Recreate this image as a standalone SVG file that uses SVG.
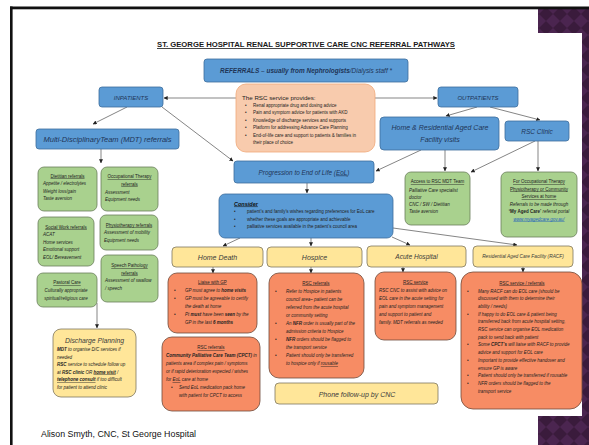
<svg xmlns="http://www.w3.org/2000/svg" width="589" height="445" viewBox="0 0 589 445">
<defs>
<pattern id="diam" width="14" height="14" patternUnits="userSpaceOnUse">
<rect width="14" height="14" fill="#3a1b3c"/>
<path d="M7,0 L14,7 L7,14 L0,7 Z" fill="#4b2550"/>
</pattern>
<marker id="ah" viewBox="0 0 6 6" refX="5.5" refY="3" markerWidth="4" markerHeight="4" orient="auto" markerUnits="userSpaceOnUse">
<path d="M0,0 L6,3 L0,6 Z" fill="#222"/>
</marker>
<style>
text{font-family:"Liberation Sans",Arial,sans-serif}
.blue{fill:#5b9bd5;stroke:#3e6d9c;stroke-width:0.8}
.peach{fill:#f8cbad;stroke:#f0a878;stroke-width:0.8}
.green{fill:#a9d18e;stroke:#6b7f5c;stroke-width:0.8}
.yellow{fill:#ffe699;stroke:#7f7760;stroke-width:0.8}
.orange{fill:#f78c64;stroke:#6e4a3a;stroke-width:0.8}
.bt{fill:#1f3557;font-style:italic}
.yt{fill:#3a3a3a;font-style:italic}
.s{font-size:4.5px;fill:#222;font-style:italic}
.r{font-size:4.5px;fill:#222}
.u{text-decoration:underline}
.c{text-anchor:middle}
.b{font-weight:bold}
#connectors path{fill:none;stroke:#333;stroke-width:0.6;marker-end:url(#ah)}
</style>
</defs>
<rect width="589" height="445" fill="#ffffff"/>
<rect x="538" y="9" width="51" height="24" fill="url(#diam)"/>
<rect x="582" y="33" width="7" height="383" fill="url(#diam)"/>
<rect x="538" y="416" width="51" height="29" fill="url(#diam)"/>
<rect x="10" y="6.5" width="579" height="2.8" fill="#111"/>
<rect x="10" y="6.5" width="2.6" height="438.5" fill="#111"/>

<text x="306" y="47" class="c b u" font-size="8" fill="#1a1a1a" textLength="298" lengthAdjust="spacingAndGlyphs">ST. GEORGE HOSPITAL RENAL SUPPORTIVE CARE CNC REFERRAL PATHWAYS</text>

<g id="connectors">
<path d="M236,98 L164,98"/>
<path d="M375,98 L437,98"/>
<path d="M127,107 L93,124"/>
<path d="M162,107 L233,161"/>
<path d="M477,107 L446,116"/>
<path d="M490,107 L540,120"/>
<path d="M445,150 L445,171"/>
<path d="M535,141 L471,172"/>
<path d="M538,140 L538,171"/>
<path d="M421,150 L376,171"/>
<path d="M101,149 L101,163"/>
<path d="M97,303 L97,328"/>
<path d="M307,183 L307,193"/>
<path d="M240,238 L223,246"/>
<path d="M311,238 L311,246"/>
<path d="M392,237 L410,245"/>
<path d="M393,228 L517,245"/>
<path d="M213,267 L213,273"/>
<path d="M311,267 L311,273"/>
<path d="M403,267 L403,272"/>
<path d="M523,267 L523,272"/>
</g>

<g id="referrals">
<rect x="204" y="59" width="204" height="23" rx="3" class="blue"/>
<text x="306" y="73" class="c bt" font-size="6.3" textLength="172" lengthAdjust="spacingAndGlyphs"><tspan class="b">REFERRALS – usually from Nephrologists</tspan>/Dialysis staff *</text>
</g>

<g id="inpatients">
<rect x="99" y="87" width="64" height="20" rx="3" class="blue"/>
<text x="131" y="99.5" class="c bt" font-size="6">INPATIENTS</text>
</g>

<g id="outpatients">
<rect x="438" y="87" width="80" height="20" rx="3" class="blue"/>
<text x="478" y="99.5" class="c bt" font-size="6">OUTPATIENTS</text>
</g>

<g id="rsc-service">
<rect x="236" y="84" width="139" height="68" rx="10" class="peach"/>
<text x="242" y="100" font-size="6.2" fill="#222">The RSC service provides:</text>
<text class="r"><tspan x="245" y="106.5">•</tspan><tspan x="253" y="106.5">Renal appropriate drug and dosing advice</tspan>
<tspan x="245" y="114">•</tspan><tspan x="253" y="114">Pain and symptom advice for patients with AKD</tspan>
<tspan x="245" y="121.5">•</tspan><tspan x="253" y="121.5">Knowledge of discharge services and supports</tspan>
<tspan x="245" y="129">•</tspan><tspan x="253" y="129">Platform for addressing Advance Care Planning</tspan>
<tspan x="245" y="136.5">•</tspan><tspan x="253" y="136.5">End-of-life care and support to patients &amp; families in</tspan>
<tspan x="253" y="143.5">their place of choice</tspan></text>
</g>

<g id="mdt">
<rect x="36" y="129" width="143" height="20" rx="3" class="blue"/>
<text x="107.5" y="142" class="c bt" font-size="6.5" textLength="128" lengthAdjust="spacingAndGlyphs">Multi-DisciplinaryTeam (MDT) referrals</text>
</g>

<g id="home-racf">
<rect x="380" y="117" width="119" height="33" rx="4" class="blue"/>
<text x="440" y="130" class="c bt" font-size="7">Home &amp; Residential Aged Care</text>
<text x="440" y="142" class="c bt" font-size="7">Facility visits</text>
</g>

<g id="rsc-clinic">
<rect x="505" y="121" width="64" height="20" rx="3" class="blue"/>
<text x="537" y="133.5" class="c bt" font-size="6.5">RSC Clinic</text>
</g>

<g id="progression">
<rect x="234" y="161" width="140" height="22" rx="3" class="blue"/>
<text x="304" y="174.5" class="c bt" font-size="6.4">Progression to End of Life (<tspan class="u">EoL</tspan>)</text>
</g>

<g id="access-mdt">
<rect x="405" y="172" width="65" height="53" rx="6" class="green"/>
<text x="437.5" y="183" class="c u" font-size="4.5" fill="#222">Access to RSC MDT Team</text>
<text class="s"><tspan x="409" y="191.5">Palliative Care specialist</tspan><tspan x="409" y="198.5">doctor</tspan><tspan x="409" y="205.5">CNC / SW / Dietitian</tspan><tspan x="409" y="212.5">Taste aversion</tspan></text>
</g>

<g id="for-ot">
<rect x="501" y="172" width="76" height="65" rx="6" class="green"/>
<text class="c u" font-size="4.5" fill="#222"><tspan x="539" y="183">For Occupational Therapy</tspan><tspan x="539" y="190.5">Physiotherapy or Community</tspan><tspan x="539" y="198">Services at home</tspan></text>
<text class="c s"><tspan x="539" y="205.5">Referrals to be made through</tspan><tspan x="539" y="213"><tspan class="b" font-style="normal">‘My Aged Care’</tspan> referral portal</tspan></text>
<text x="539" y="220.5" class="c u" font-size="4.5" font-style="italic" fill="#1f5fbf">www.myagedcare.gov.au/</text>
</g>

<g id="consider">
<rect x="219" y="194" width="174" height="44" rx="6" class="blue"/>
<text x="234" y="205.5" font-size="5.5" class="b u" font-style="italic" fill="#111">Consider</text><text x="256" y="205.5" font-size="5.5" fill="#111">:</text>
<text class="r" fill="#111"><tspan x="234" y="213">•</tspan><tspan x="247" y="213">patient’s and family’s wishes regarding preferences for EoL care</tspan>
<tspan x="234" y="220.5">•</tspan><tspan x="247" y="220.5">whether these goals are appropriate and achievable</tspan>
<tspan x="234" y="228">•</tspan><tspan x="247" y="228">palliative services available in the patient’s council area</tspan></text>
</g>

<g id="dietitian">
<rect x="38" y="167" width="59" height="44" rx="6" class="green"/>
<text x="67.5" y="177.5" class="c u" font-size="4.5" fill="#222">Dietitian referrals</text>
<text class="s"><tspan x="43" y="185">Appetite / electrolytes</tspan><tspan x="43" y="192.5">Weight loss/gain</tspan><tspan x="43" y="200">Taste aversion</tspan></text>
</g>

<g id="ot">
<rect x="101" y="167" width="57" height="44" rx="6" class="green"/>
<text class="c u" font-size="4.5" fill="#222"><tspan x="129.5" y="178">Occupational Therapy</tspan><tspan x="129.5" y="185.5">referrals</tspan></text>
<text class="s"><tspan x="105" y="193.5">Assessment</tspan><tspan x="105" y="201">Equipment needs</tspan></text>
</g>

<g id="social-work">
<rect x="38" y="217" width="56" height="49" rx="6" class="green"/>
<text x="66" y="228.5" class="c u" font-size="4.5" fill="#222">Social Work referrals</text>
<text class="s"><tspan x="43" y="236">ACAT</tspan><tspan x="43" y="243.5">Home services</tspan><tspan x="43" y="251">Emotional support</tspan><tspan x="43" y="258.5">EOL/ Bereavement</tspan></text>
</g>

<g id="physio">
<rect x="100" y="215" width="58" height="35" rx="6" class="green"/>
<text x="129" y="226.5" class="c u" font-size="4.5" fill="#222">Physiotherapy referrals</text>
<text class="s"><tspan x="104" y="234">Assessment of mobility</tspan><tspan x="104" y="241.5">Equipment needs</tspan></text>
</g>

<g id="speech">
<rect x="101" y="255" width="57" height="47" rx="6" class="green"/>
<text class="c u" font-size="4.5" fill="#222"><tspan x="129.5" y="267">Speech Pathology</tspan><tspan x="129.5" y="274.5">referrals</tspan></text>
<text class="s"><tspan x="105" y="282">Assessment of swallow</tspan><tspan x="105" y="289.5">/ speech</tspan></text>
</g>

<g id="pastoral">
<rect x="37" y="273" width="60" height="34" rx="6" class="green"/>
<text x="67" y="284" class="c u" font-size="4.5" fill="#222">Pastoral Care</text>
<text class="c s"><tspan x="66" y="292">Culturally appropriate</tspan><tspan x="66" y="299.5">spiritual/religious care</tspan></text>
</g>

<g id="discharge">
<rect x="53" y="329" width="83" height="68" rx="8" class="yellow"/>
<text x="94.5" y="343" class="c yt" font-size="6.8">Discharge Planning</text>
<text class="s"><tspan x="57" y="351"><tspan class="b">MDT</tspan> to organise D/C services if</tspan><tspan x="57" y="358.5">needed</tspan><tspan x="57" y="366"><tspan class="b">RSC</tspan> service to schedule follow up</tspan><tspan x="57" y="373.5">at <tspan class="b">RSC clinic</tspan> OR <tspan class="b u">home visit</tspan> /</tspan><tspan x="57" y="381"><tspan class="b u">telephone consult</tspan>  if too difficult</tspan><tspan x="57" y="388.5">for patient  to attend clinic</tspan></text>
</g>

<g id="home-death">
<rect x="172" y="247" width="91" height="20" rx="4" class="yellow"/>
<text x="217.5" y="259.5" class="c yt" font-size="7">Home Death</text>
</g>

<g id="hospice">
<rect x="267" y="247" width="95" height="20" rx="4" class="yellow"/>
<text x="314.5" y="259.5" class="c yt" font-size="7">Hospice</text>
</g>

<g id="acute">
<rect x="367" y="246" width="99" height="21" rx="4" class="yellow"/>
<text x="416.5" y="258.5" class="c yt" font-size="6.6">Acute Hospital</text>
</g>

<g id="racf">
<rect x="473" y="246" width="100" height="21" rx="4" class="yellow"/>
<text x="523" y="258" class="c yt" font-size="4.8">Residential Aged Care Facility (RACF)</text>
</g>

<g id="liaise-gp">
<rect x="168" y="273" width="89" height="60" rx="9" class="orange"/>
<text x="212.5" y="283.5" class="c u" font-size="4.5" fill="#222">Liaise with GP</text>
<text class="s"><tspan x="174" y="292">•</tspan><tspan x="185" y="292">GP must agree to <tspan class="b">home visits</tspan></tspan>
<tspan x="174" y="300">•</tspan><tspan x="185" y="300">GP must be agreeable to certify</tspan>
<tspan x="185" y="308">the death at home</tspan>
<tspan x="174" y="316">•</tspan><tspan x="185" y="316">Pt <tspan class="b">must</tspan> have been <tspan class="b">seen</tspan> by the</tspan>
<tspan x="185" y="324">GP in the last <tspan class="b">6 months</tspan></tspan></text>
</g>

<g id="home-rsc">
<rect x="162" y="337" width="98" height="74" rx="10" class="orange"/>
<text x="211" y="349" class="c u" font-size="4.5" fill="#222">RSC referrals</text>
<text class="s"><tspan x="166" y="357"><tspan class="b">Community Palliative Care Team (CPCT)</tspan> in</tspan>
<tspan x="166" y="365">patients area if complex pain / symptoms</tspan>
<tspan x="166" y="373">or if rapid deterioration expected / wishes</tspan>
<tspan x="166" y="381">for <tspan class="u">EoL</tspan> care at home</tspan>
<tspan x="171" y="389">•</tspan><tspan x="179" y="389">Send EoL medication pack home</tspan>
<tspan x="179" y="397">with patient for CPCT to access</tspan></text>
</g>

<g id="hospice-rsc">
<rect x="269" y="273" width="95" height="105" rx="10" class="orange"/>
<text x="316" y="284.5" class="c u" font-size="4.5" fill="#222">RSC referrals</text>
<text class="s"><tspan x="275" y="293">•</tspan><tspan x="286" y="293">Refer to Hospice in patients</tspan>
<tspan x="286" y="301">council area– patient can be</tspan>
<tspan x="286" y="309">referred from the acute hospital</tspan>
<tspan x="286" y="317">or community setting</tspan>
<tspan x="275" y="325">•</tspan><tspan x="286" y="325">An <tspan class="b">NFR</tspan> order is usually part of the</tspan>
<tspan x="286" y="333">admission criteria to Hospice</tspan>
<tspan x="275" y="341">•</tspan><tspan x="286" y="341"><tspan class="b">NFR</tspan> orders should be flagged to</tspan>
<tspan x="286" y="349">the transport service</tspan>
<tspan x="275" y="357">•</tspan><tspan x="286" y="357">Patient should only be transferred</tspan>
<tspan x="286" y="365">to hospice only if <tspan class="u">rousable</tspan></tspan></text>
</g>

<g id="acute-rsc">
<rect x="375" y="272" width="81" height="68" rx="9" class="orange"/>
<text x="415.5" y="283.5" class="c u" font-size="4.5" fill="#222">RSC service</text>
<text class="s"><tspan x="379" y="291.5">RSC CNC to assist with advice on</tspan>
<tspan x="379" y="299.5">EOL care in the acute setting for</tspan>
<tspan x="379" y="307.5">pain and symptom management</tspan>
<tspan x="379" y="315.5">and support to patient and</tspan>
<tspan x="379" y="323.5">family.  MDT referrals as needed</tspan></text>
</g>

<g id="racf-rsc">
<rect x="461" y="272" width="121" height="137" rx="12" class="orange"/>
<text x="522" y="284.5" class="c u" font-size="4.5" fill="#222">RSC service / referrals</text>
<text class="s"><tspan x="467" y="292.5">•</tspan><tspan x="478" y="292.5">Many RACF can do EOL care (should be</tspan>
<tspan x="478" y="300.2">discussed with them to determine their</tspan>
<tspan x="478" y="307.9">ability / needs)</tspan>
<tspan x="467" y="315.6">•</tspan><tspan x="478" y="315.6">If happy to do EOL care &amp; patient being</tspan>
<tspan x="478" y="323.3">transferred back from acute hospital setting,</tspan>
<tspan x="478" y="331">RSC service can organise EOL medication</tspan>
<tspan x="478" y="338.7">pack to send back with patient</tspan>
<tspan x="467" y="346.4">•</tspan><tspan x="478" y="346.4">Some <tspan class="b">CPCT’s</tspan> will liaise with RACF to provide</tspan>
<tspan x="478" y="354.1">advice and support  for EOL care</tspan>
<tspan x="467" y="361.8">•</tspan><tspan x="478" y="361.8">Important to provide effective handover and</tspan>
<tspan x="478" y="369.5">ensure GP is aware</tspan>
<tspan x="467" y="377.2">•</tspan><tspan x="478" y="377.2">Patient should only be transferred if rousable</tspan>
<tspan x="467" y="384.9">•</tspan><tspan x="478" y="384.9">NFR orders should be flagged to the</tspan>
<tspan x="478" y="392.6">transport service</tspan></text>
</g>

<g id="phone">
<rect x="275" y="383" width="163" height="21" rx="4" class="yellow"/>
<text x="357" y="396.5" class="c yt" font-size="7">Phone follow-up by CNC</text>
</g>

<text x="41" y="437" font-size="8.5" fill="#111" textLength="155" lengthAdjust="spacingAndGlyphs">Alison Smyth, CNC, St George Hospital</text>
</svg>
